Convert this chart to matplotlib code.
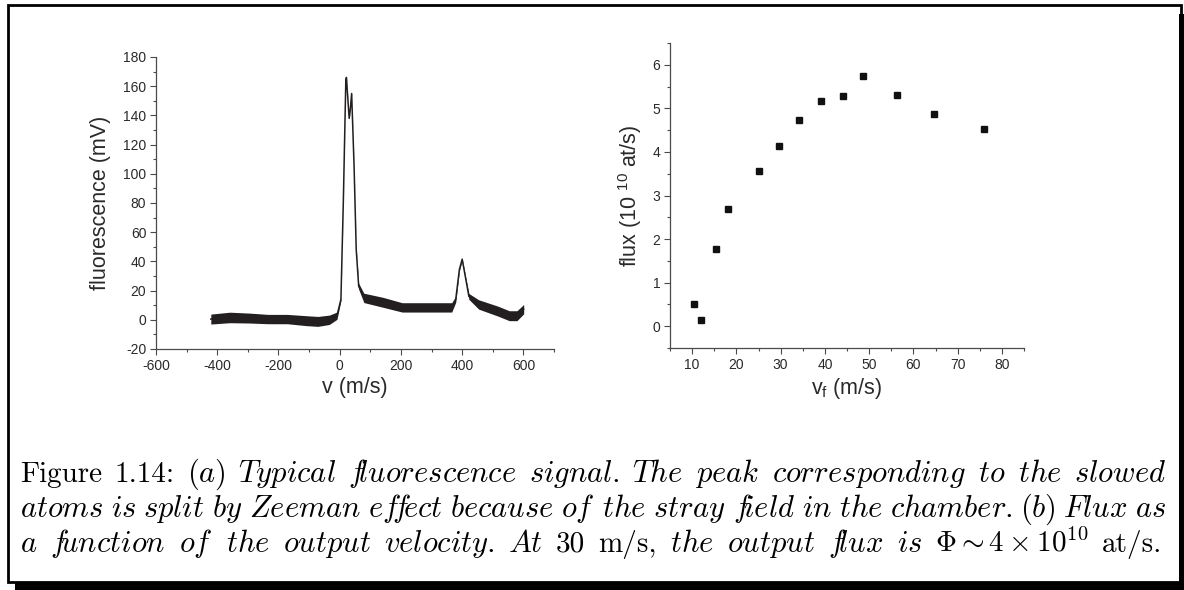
import matplotlib
matplotlib.use("Agg")
import matplotlib.pyplot as plt
from matplotlib.patches import Rectangle
from matplotlib.ticker import MultipleLocator
import numpy as np

# (a) fluorescence trace
v = [-421, -359, -296, -234, -171, -109, -71, -34, -9, 4, 12, 20, 22, 27, 31, 35, 39,
     43, 47, 54, 62, 79, 141, 204, 266, 329, 366, 379, 391, 400, 410, 422, 454, 516,
     554, 579, 601]
signal = [0.5, 1.6, 1.2, 0.5, 0.5, -0.6, -1.1, 0.0, 2.8, 14, 82, 164, 166, 150, 138,
          145, 155, 130, 105, 48, 23, 15, 12, 8.5, 8.5, 8.5, 8.5, 14, 34.5, 41.5, 30,
          16, 10.5, 6, 2.8, 2.8, 7.3]
# half-width of the noise band around the trace
noise = [3.4, 3.6, 3.4, 3.2, 3.2, 3.4, 3.4, 3.2, 2.5, 1.0, 0.6, 0.6, 0.6, 0.6, 0.6,
         0.6, 0.6, 0.6, 0.6, 0.8, 2.0, 3.2, 3.4, 3.2, 3.2, 3.2, 3.2, 2.0, 1.0, 0.8,
         1.0, 2.0, 3.2, 3.4, 3.4, 3.4, 3.2]

# (b) flux vs output velocity
vf = [10.5, 12.0, 15.3, 18.1, 25.0, 29.7, 34.2, 39.2, 44.0, 48.6, 56.3, 64.6, 76.0]
flux = [0.52, 0.14, 1.77, 2.69, 3.57, 4.14, 4.73, 5.18, 5.29, 5.75, 5.30, 4.88, 4.52]

caption = [
    [("rm", "Figure"), ("rm", "1.14:"), ("it", "(a)"), ("it", "Typical"),
     ("it", "fluorescence"), ("it", "signal."), ("it", "The"), ("it", "peak"),
     ("it", "corresponding"), ("it", "to"), ("it", "the"), ("it", "slowed")],
    [("it", w) for w in "atoms is split by Zeeman effect because of the stray field "
                        "in the chamber. (b) Flux as".split()],
    [("it", w) for w in "a function of the output velocity. At".split()]
    + [("rm", "30"), ("rm", "m/s,")]
    + [("it", w) for w in "the output flux is".split()]
    + [("math", r"\Phi\sim4\times10^{10}"), ("rm", "at/s.")],
]

W, H = 1184, 590
plt.rcParams["font.family"] = ["Liberation Sans", "DejaVu Sans"]
plt.rcParams["axes.unicode_minus"] = False

fig = plt.figure(figsize=(W / 100, H / 100), dpi=100)

AX_COL = "#4a4a4a"
TXT_COL = "#2a2a2a"
TRACE = "#231f20"


def style_axes(ax):
    for s in ["top", "right"]:
        ax.spines[s].set_visible(False)
    for s in ["left", "bottom"]:
        ax.spines[s].set_color(AX_COL)
        ax.spines[s].set_linewidth(0.9)
    ax.tick_params(which="both", direction="out", colors=AX_COL, labelcolor=TXT_COL,
                   width=0.8, labelsize=10)
    ax.tick_params(which="major", length=4.5, pad=2.5)
    ax.tick_params(which="minor", length=2.5)


def fx(px):
    return px / W


def fy(py):
    return 1 - py / H


# left panel
ax1 = fig.add_axes([fx(156), fy(349), fx(554) - fx(156), fy(57) - fy(349)])
style_axes(ax1)
vv = np.array(v)
ss = np.array(signal)
nn = np.array(noise)
ax1.fill_between(vv, ss - nn, ss + nn, color=TRACE, lw=0)
ax1.plot(vv, ss, color=TRACE, lw=1.1)
ax1.set_xlim(-600, 700)
ax1.set_ylim(-20, 180)
ax1.xaxis.set_major_locator(MultipleLocator(200))
ax1.xaxis.set_minor_locator(MultipleLocator(100))
ax1.yaxis.set_major_locator(MultipleLocator(20))
ax1.yaxis.set_minor_locator(MultipleLocator(10))
ax1.set_xticks([-600, -400, -200, 0, 200, 400, 600])
ax1.set_xlabel("v (m/s)", fontsize=15.5, color=TXT_COL, labelpad=3)
ax1.set_ylabel("fluorescence (mV)", fontsize=15.5, color=TXT_COL, labelpad=9)

# right panel
ax2 = fig.add_axes([fx(670), fy(348), fx(1024) - fx(670), fy(43) - fy(348)])
style_axes(ax2)
ax2.plot(vf, flux, "s", color="#111111", ms=5)
ax2.set_xlim(5, 85)
ax2.set_ylim(-0.5, 6.5)
ax2.xaxis.set_major_locator(MultipleLocator(10))
ax2.xaxis.set_minor_locator(MultipleLocator(5))
ax2.set_xticks(range(10, 81, 10))
ax2.yaxis.set_major_locator(MultipleLocator(1))
ax2.yaxis.set_minor_locator(MultipleLocator(0.5))
ax2.set_yticks(range(0, 7))
ax2.set_xlabel(r"v$_\mathregular{f}$ (m/s)", fontsize=15.5, color=TXT_COL, labelpad=3)
ax2.set_ylabel(r"flux (10 $^{\mathregular{10}}$ at/s)", fontsize=15.5, color=TXT_COL,
               labelpad=6)

# caption, justified word by word
FS = 21
FS_IT = 22
renderer = fig.canvas.get_renderer()


def word_text(kind, w):
    if kind == "rm":
        return fig.text(0, 0, w, fontsize=FS, family="cmr10", va="baseline",
                        color="black")
    if kind == "it":
        # cmmi leaves a wide gap after f, pull the next letter back
        w = w.replace("f", r"f\!")
        return fig.text(0, 0, r"$\mathit{%s}$" % w, fontsize=FS_IT,
                        math_fontfamily="cm", va="baseline", color="black")
    return fig.text(0, 0, "$%s$" % w, fontsize=FS, math_fontfamily="cm",
                    va="baseline", color="black")


lines_y = [482, 517, 552]
lines_x = [(20, 1166), (20, 1166), (20, 1162)]
for words, yb, (x0, x1) in zip(caption, lines_y, lines_x):
    texts = [word_text(k, w) for k, w in words]
    widths = [t.get_window_extent(renderer).width for t in texts]
    gap = (x1 - x0 - sum(widths)) / (len(texts) - 1)
    x = x0
    for t, wd in zip(texts, widths):
        t.set_position((fx(x), fy(yb)))
        x += wd + gap

# page frame with shadow
fig.add_artist(Rectangle((fx(8), fy(582)), fx(1181) - fx(8), fy(5) - fy(582),
                         transform=fig.transFigure, fill=False, ec="black", lw=2))
fig.add_artist(Rectangle((fx(15), fy(590)), fx(1184) - fx(15), fy(582) - fy(590),
                         transform=fig.transFigure, fc="black", ec="none"))
fig.add_artist(Rectangle((fx(1179), fy(590)), fx(1184) - fx(1179), fy(14) - fy(590),
                         transform=fig.transFigure, fc="black", ec="none"))

fig.savefig("out.png", dpi=100)
